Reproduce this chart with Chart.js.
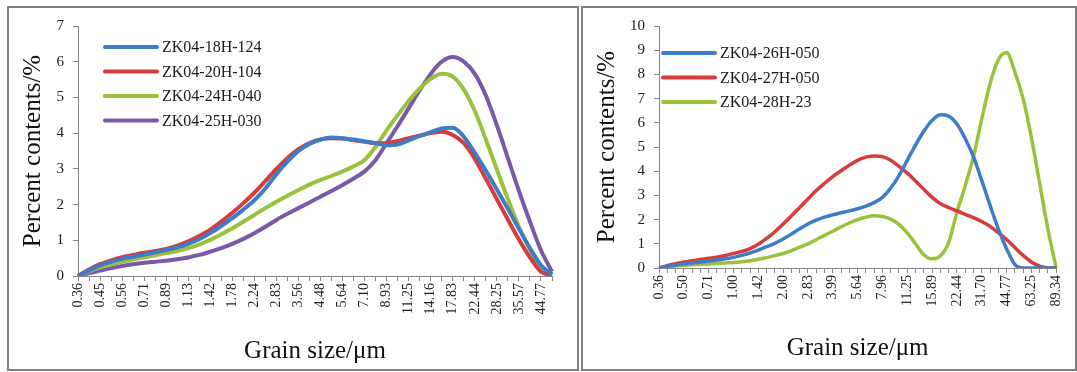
<!DOCTYPE html>
<html>
<head>
<meta charset="utf-8">
<script src="https://cdn.jsdelivr.net/npm/chart.js@4.4.1/dist/chart.umd.min.js"></script>
<style>
  body { margin: 0; background: #fff; width: 1077px; height: 372px; position: relative; overflow: hidden; }
  .panel { position: absolute; top: 6px; height: 365px; border: 2px solid #808080; box-sizing: border-box; background: #fff; }
  #leftPanel { left: 7px; width: 572px; }
  #rightPanel { left: 581px; width: 496px; }
  canvas { display: block; }
</style>
</head>
<body>
<div class="panel" id="leftPanel"><canvas id="leftChart" width="568" height="361"></canvas></div>
<div class="panel" id="rightPanel"><canvas id="rightChart" width="492" height="361"></canvas></div>
<script>
// grain size classes (µm)
const grainSizes = ['0.36','0.40','0.45','0.50','0.56','0.63','0.71','0.80','0.89','1.00','1.13','1.26','1.42','1.59','1.78','2.00','2.24','2.52','2.83','3.17','3.56','3.99','4.48','5.02','5.64','6.32','7.10','7.96','8.93','10.02','11.25','12.62','14.16','15.89','17.83','20.00','22.44','25.18','28.25','31.70','35.57','39.91','44.77','50.24','56.37','63.25','70.96','79.62','89.34'];
const leftSizes = grainSizes.slice(0, 44);
const rightSizes = grainSizes;

// left chart series
const leftNames = ['ZK04-18H-124', 'ZK04-20H-104', 'ZK04-24H-040', 'ZK04-25H-030'];
const zk18 = [0,0.15,0.30,0.40,0.48,0.54,0.60,0.66,0.73,0.80,0.90,1.03,1.20,1.40,1.62,1.86,2.12,2.45,2.85,3.20,3.50,3.70,3.82,3.88,3.86,3.82,3.77,3.72,3.66,3.68,3.80,3.92,4.03,4.13,4.15,3.90,3.45,2.95,2.42,1.88,1.32,0.78,0.30,0.05];
const zk20 = [0,0.18,0.33,0.44,0.53,0.59,0.65,0.70,0.76,0.85,0.97,1.12,1.30,1.52,1.77,2.04,2.33,2.66,3.00,3.30,3.55,3.72,3.82,3.86,3.85,3.80,3.76,3.72,3.72,3.78,3.86,3.93,4.00,4.04,3.95,3.72,3.28,2.72,2.15,1.58,1.02,0.52,0.12,0.02];
const zk24 = [0,0.13,0.24,0.33,0.40,0.46,0.52,0.58,0.64,0.70,0.78,0.88,1.01,1.17,1.34,1.52,1.71,1.90,2.08,2.25,2.41,2.56,2.69,2.80,2.93,3.07,3.25,3.62,4.08,4.50,4.90,5.25,5.52,5.66,5.58,5.22,4.62,3.82,2.98,2.15,1.38,0.74,0.22,0.04];
const zk25 = [0,0.08,0.15,0.22,0.28,0.33,0.37,0.40,0.43,0.47,0.52,0.59,0.68,0.78,0.90,1.04,1.20,1.38,1.57,1.74,1.90,2.06,2.22,2.38,2.55,2.73,2.93,3.25,3.72,4.20,4.70,5.20,5.66,6.00,6.13,6.00,5.66,5.05,4.22,3.30,2.38,1.52,0.72,0.12];

// right chart series
const rightNames = ['ZK04-26H-050', 'ZK04-27H-050', 'ZK04-28H-23'];
const zk26 = [0,0.07,0.12,0.17,0.21,0.25,0.29,0.33,0.38,0.44,0.52,0.62,0.74,0.88,1.02,1.20,1.40,1.62,1.82,1.98,2.10,2.20,2.28,2.36,2.45,2.56,2.70,2.92,3.30,3.82,4.45,5.08,5.65,6.10,6.33,6.28,5.95,5.35,4.60,3.62,2.60,1.62,0.80,0.15,0,0,0,0,0];
const zk27 = [0,0.10,0.18,0.25,0.30,0.35,0.40,0.45,0.52,0.60,0.68,0.80,0.98,1.22,1.50,1.82,2.15,2.50,2.85,3.20,3.50,3.78,4.02,4.25,4.45,4.58,4.63,4.60,4.45,4.20,3.92,3.60,3.25,2.92,2.66,2.50,2.36,2.22,2.08,1.92,1.72,1.46,1.18,0.85,0.52,0.25,0.08,0.01,0];
const zk28 = [0,0.04,0.08,0.11,0.13,0.15,0.17,0.19,0.21,0.23,0.26,0.30,0.36,0.43,0.51,0.60,0.72,0.86,1.00,1.17,1.35,1.52,1.70,1.86,2.00,2.10,2.16,2.13,2.02,1.80,1.45,1.00,0.55,0.38,0.50,1.05,2.30,3.40,4.60,6.15,7.60,8.60,8.90,8.10,7.00,5.40,3.50,1.60,0];

const BLUE = '#3d7cc9', RED = '#d63c3c', GREEN = '#9bc13c', PURPLE = '#7a59a8';
const SERIF = '"Liberation Serif", "Times New Roman", serif';

// legend drawn inside plot area: short thick line + name
const lineLegend = {
	id: 'lineLegend',
	afterDatasetsDraw(chart, args, opts) {
		const {ctx, chartArea} = chart;
		ctx.save();
		ctx.font = '16px ' + SERIF;
		ctx.textBaseline = 'middle';
		chart.data.datasets.forEach((ds, i) => {
			const x = chartArea.left + opts.left;
			const y = chartArea.top + opts.top + i * opts.step;
			ctx.strokeStyle = ds.borderColor;
			ctx.lineWidth = 4;
			ctx.lineCap = 'round';
			ctx.beginPath();
			ctx.moveTo(x, y);
			ctx.lineTo(x + 52, y);
			ctx.stroke();
			ctx.fillStyle = '#1a1a1a';
			ctx.fillText(ds.label, x + 57, y + 1);
		});
		ctx.restore();
	}
};

function makeChart(id, labels, names, series, colors, cfg) {
	const datasets = series.map((d, i) => ({
		label: names[i],
		data: d,
		borderColor: colors[i],
		backgroundColor: colors[i],
		borderWidth: cfg.lineWidth,
		pointRadius: 0,
		cubicInterpolationMode: 'monotone',
		fill: false
	}));
	return new Chart(document.getElementById(id), {
		type: 'line',
		data: { labels: labels, datasets: datasets },
		plugins: [lineLegend],
		options: {
			responsive: false,
			animation: false,
			layout: { padding: { top: 18, right: cfg.padRight, bottom: 0, left: 0 } },
			plugins: {
				legend: { display: false },
				tooltip: { enabled: false },
				lineLegend: cfg.legend
			},
			scales: {
				x: {
					type: 'category',
					offset: false,
					grid: { drawOnChartArea: false, drawTicks: true, tickLength: 5, color: '#868686' },
					border: { color: '#868686', width: 1 },
					ticks: {
						autoSkip: false,
						maxRotation: 90,
						minRotation: 90,
						padding: 2,
						color: '#222',
						font: { family: SERIF, size: 14 },
						callback: (v, i) => (i % cfg.labelStep === 0 ? labels[i] : '')
					},
					title: {
						display: true,
						text: 'Grain size/μm',
						color: '#111',
						font: { family: SERIF, size: 25 },
						padding: { top: 0, bottom: cfg.xTitlePad }
					},
					afterFit: (s) => { s.height = cfg.xHeight; }
				},
				y: {
					min: 0,
					max: cfg.yMax,
					grid: { drawOnChartArea: false, drawTicks: true, tickLength: 5, color: '#868686' },
					border: { color: '#868686', width: 1 },
					ticks: {
						stepSize: 1,
						padding: 9,
						color: '#222',
						font: { family: SERIF, size: 15 }
					},
					title: {
						display: true,
						text: 'Percent contents/%',
						color: '#111',
						font: { family: SERIF, size: 25 },
						padding: { top: 9.6, bottom: 0 }
					},
					afterFit: (s) => { s.width = cfg.yWidth; }
				}
			}
		}
	});
}

makeChart('leftChart', leftSizes, leftNames, [zk18, zk20, zk24, zk25], [BLUE, RED, GREEN, PURPLE], {
	yMax: 7, labelStep: 2, lineWidth: 4, padRight: 25, yWidth: 69, xHeight: 93, xTitlePad: 2.4,
	legend: { left: 27, top: 21, step: 24.5 }
});

makeChart('rightChart', rightSizes, rightNames, [zk26, zk27, zk28], [BLUE, RED, GREEN], {
	yMax: 10, labelStep: 3, lineWidth: 3.5, padRight: 7, yWidth: 76, xHeight: 101, xTitlePad: 5.4,
	legend: { left: 4, top: 27, step: 24.5 }
});
</script>
</body>
</html>
